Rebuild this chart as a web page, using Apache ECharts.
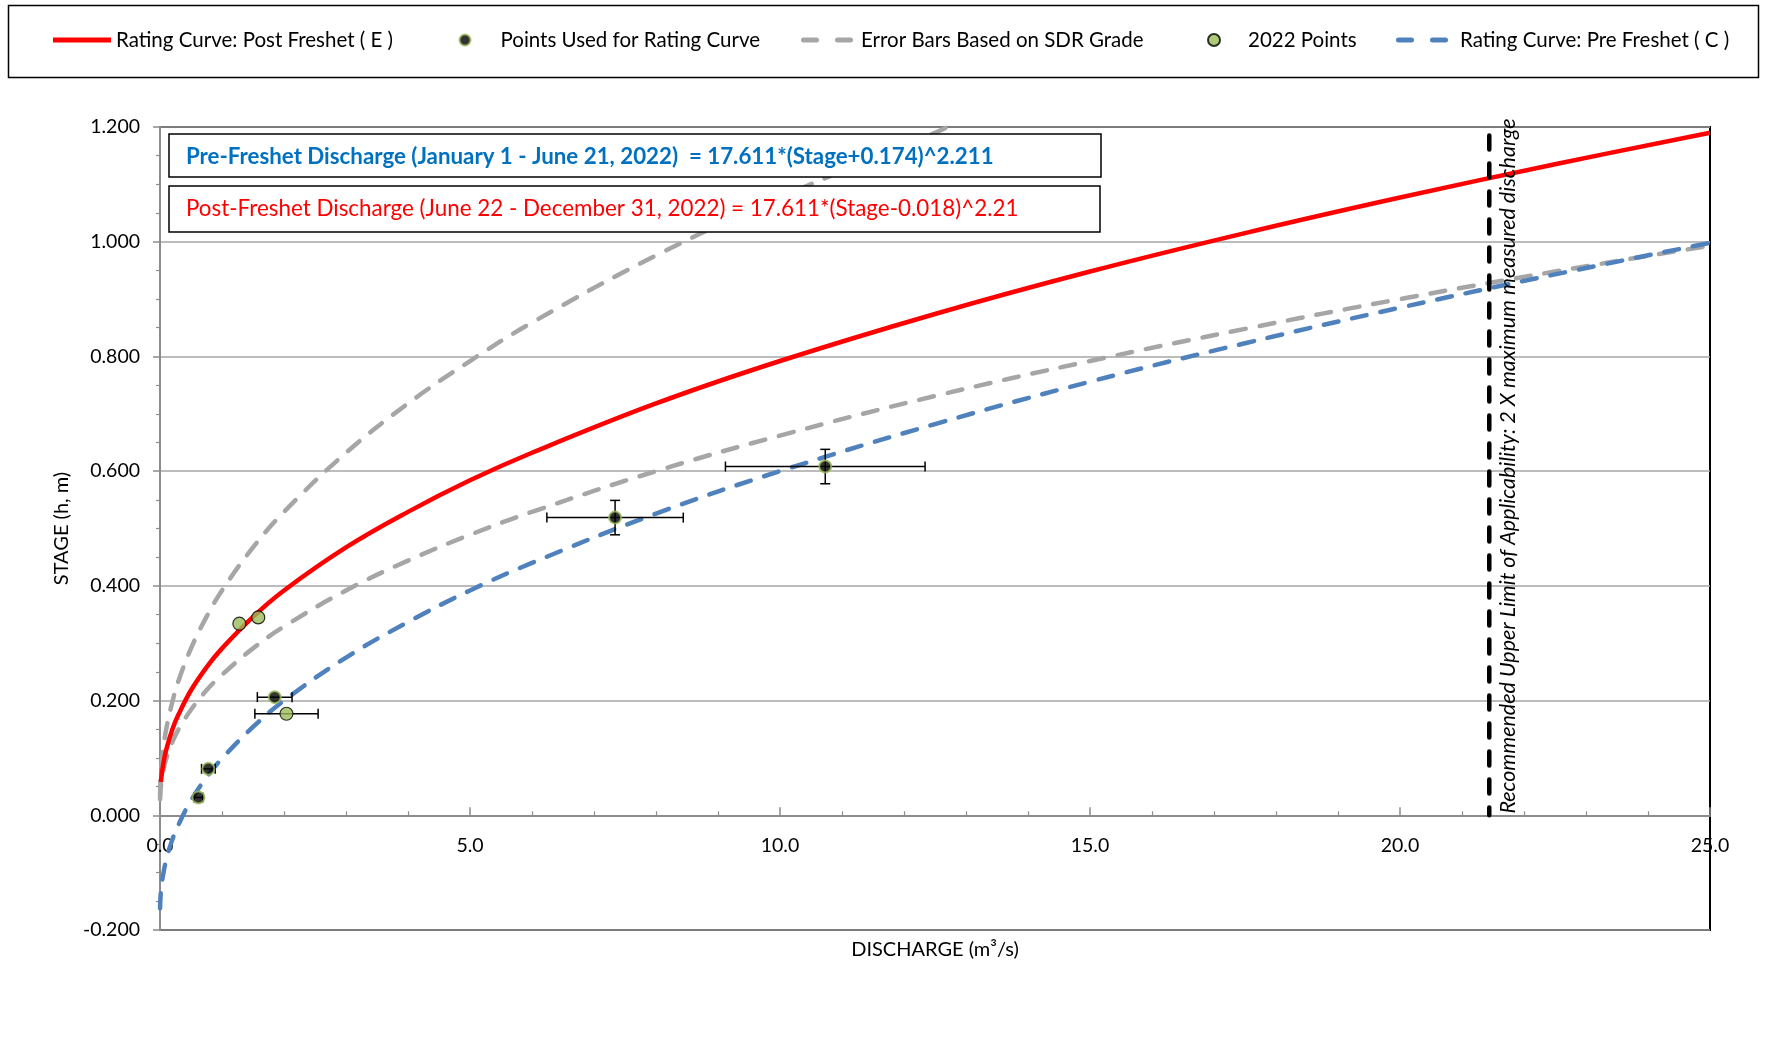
<!DOCTYPE html>
<html><head><meta charset="utf-8">
<script src="https://cdn.jsdelivr.net/npm/echarts@6/dist/echarts.min.js"></script>
<style>html,body{margin:0;padding:0;background:#fff}#c{width:1765px;height:1042px}</style>
</head><body><div id="c"></div>
<script>
// ---------------- data ----------------
const postName = 'Rating Curve: Post Freshet ( E )';
const usedName = 'Points Used for Rating Curve';
const errName = 'Error Bars Based on SDR Grade';
const ptsName = '2022 Points';
const preName = 'Rating Curve: Pre Freshet ( C )';

// Post-freshet rating curve (red)
const postQ = [0.014,0.05,0.1,0.2,0.3,0.5,0.75,1,1.5,2,3,4,5,6,8,10,12.5,15,17.5,20,22.5,25];
const postH = [0.058,0.088,0.114,0.150,0.176,0.218,0.258,0.291,0.346,0.392,0.467,0.529,0.584,0.632,0.718,0.792,0.874,0.948,1.015,1.077,1.135,1.190];
// Pre-freshet rating curve (blue dashed)
const preQ = [0.001,0.005,0.02,0.05,0.1,0.2,0.3,0.5,0.75,1,1.5,2,3,4,5,6,8,10,12.5,15,17.5,20,22.5,25];
const preH = [-0.162,-0.149,-0.127,-0.104,-0.078,-0.042,-0.016,0.026,0.066,0.099,0.154,0.200,0.275,0.337,0.392,0.440,0.526,0.600,0.682,0.756,0.823,0.885,0.943,0.998];
// Error envelope (grey dashed) - upper / left curve
const errUpQ = [0.001,0.01,0.05,0.1,0.2,0.3,0.5,0.75,1,1.5,2,3,4,5,6,8,10,12.5,12.7];
const errUpH = [0.034,0.065,0.114,0.150,0.198,0.235,0.291,0.346,0.392,0.467,0.529,0.632,0.718,0.792,0.859,0.976,1.077,1.190,1.200];
// Error envelope (grey dashed) - lower / right curve
const errLoQ = [0.001,0.01,0.05,0.1,0.2,0.3,0.5,0.75,1,1.5,2,3,4,5,6,8,10,12.5,15,17.5,20,22.5,25];
const errLoH = [0.028,0.046,0.077,0.098,0.128,0.150,0.184,0.218,0.245,0.291,0.329,0.392,0.444,0.489,0.529,0.600,0.662,0.731,0.792,0.848,0.900,0.948,0.993];
// Points used for rating curve (black)
const usedQ = [0.62,0.78,1.85,7.34,10.73];
const usedH = [0.031,0.081,0.206,0.519,0.608];
const usedXErr = [0.07,0.11,0.28,1.10,1.61];
const usedYErr = [0,0,0,0.03,0.03];
// Other 2022 points (green)
const ptsQ = [1.28,1.585,2.04];
const ptsH = [0.334,0.345,0.177];
const ptsXErr = [0,0,0.51];
const ptsYErr = [0,0,0];
// Upper limit of applicability (2 x max measured discharge), drawn top -> bottom
const limitQ = [21.44,21.44];
const limitH = [1.185,0];
// axes
const xMin = 0, xMax = 25, xStep = 5;
const yMin = -0.2, yMax = 1.2, yStep = 0.2;
const xTitle = 'DISCHARGE (m³/s)';
const yTitle = 'STAGE (h, m)';
const preEq = 'Pre-Freshet Discharge (January 1 - June 21, 2022)  = 17.611*(Stage+0.174)^2.211';
const postEq = 'Post-Freshet Discharge (June 22 - December 31, 2022) = 17.611*(Stage-0.018)^2.21';
const limitText = 'Recommended Upper Limit of Applicability: 2 X maximum measured discharge';

// ---------------- chart ----------------
const FONT = 'Lato, "Open Sans", sans-serif';
const RED = '#FF0000', BLUE = '#4F81BD', GREY = '#A6A6A6', GREEN = '#9BBB59';
const GRID = { left: 160, right: 55, top: 127, bottom: 112 };
const H = 1042;
const gridH = H - GRID.top - GRID.bottom;
const xAxisOffset = -((0 - yMin) / (yMax - yMin)) * gridH; // x axis crosses at stage 0

const pair = (a, b) => a.map((v, i) => [v, b[i]]);
const errRows = usedQ.map((q, i) => [q, usedH[i], usedXErr[i], usedYErr[i]])
  .concat(ptsQ.map((q, i) => [q, ptsH[i], ptsXErr[i], ptsYErr[i]]))
  .filter(r => r[2] > 0 || r[3] > 0);

function renderErr(params, api) {
  const x = api.value(0), y = api.value(1), xe = api.value(2), ye = api.value(3);
  const style = { stroke: '#000', lineWidth: 1.5 };
  const ch = [], cap = 5;
  if (xe > 0) {
    const a = api.coord([x - xe, y]), b = api.coord([x + xe, y]);
    ch.push({ type: 'line', shape: { x1: a[0], y1: a[1], x2: b[0], y2: b[1] }, style });
    ch.push({ type: 'line', shape: { x1: a[0], y1: a[1] - cap, x2: a[0], y2: a[1] + cap }, style });
    ch.push({ type: 'line', shape: { x1: b[0], y1: b[1] - cap, x2: b[0], y2: b[1] + cap }, style });
  }
  if (ye > 0) {
    const a = api.coord([x, y - ye]), b = api.coord([x, y + ye]);
    ch.push({ type: 'line', shape: { x1: a[0], y1: a[1], x2: b[0], y2: b[1] }, style });
    ch.push({ type: 'line', shape: { x1: a[0] - cap, y1: a[1], x2: a[0] + cap, y2: a[1] }, style });
    ch.push({ type: 'line', shape: { x1: b[0] - cap, y1: b[1], x2: b[0] + cap, y2: b[1] }, style });
  }
  return { type: 'group', children: ch };
}

const DASH_ICON = 'path://M2.5,0H15.5A2.5,2.5,0,0,1,15.5,5H2.5A2.5,2.5,0,0,1,2.5,0Z M36.5,0H49.5A2.5,2.5,0,0,1,49.5,5H36.5A2.5,2.5,0,0,1,36.5,0Z';
const LINE_ICON = 'path://M0,0H58V5H0Z';
const legendText = { fontFamily: FONT, fontSize: 20.5, color: '#000' };
const LEG_TOP = 29.5;
const legends = [
  { left: 53, data: [{ name: postName, icon: LINE_ICON }], itemWidth: 58, itemHeight: 5, textStyle: legendText },
  { left: 458.5, data: [{ name: usedName, icon: 'circle' }], itemWidth: 11, itemHeight: 11,
    textStyle: Object.assign({ padding: [0, 0, 0, 25] }, legendText) },
  { left: 801, data: [{ name: errName, icon: DASH_ICON, itemStyle: { color: GREY } }], itemWidth: 52, itemHeight: 5,
    textStyle: Object.assign({ padding: [0, 0, 0, 3] }, legendText) },
  { left: 1207, data: [{ name: ptsName, icon: 'circle' }], itemWidth: 12, itemHeight: 12,
    textStyle: Object.assign({ padding: [0, 0, 0, 23] }, legendText) },
  { left: 1396, data: [{ name: preName, icon: DASH_ICON, itemStyle: { color: BLUE } }], itemWidth: 52, itemHeight: 5,
    textStyle: Object.assign({ padding: [0, 0, 0, 7] }, legendText) }
].map(l => Object.assign({ orient: 'horizontal', top: LEG_TOP, padding: 0, itemGap: 0, selectedMode: false }, l));

const DASH = [15, 14];
const chart = echarts.init(document.getElementById('c'), null, { renderer: 'canvas' });
chart.setOption({
  animation: false,
  backgroundColor: '#fff',
  legend: legends,
  grid: {
    left: GRID.left, right: GRID.right, top: GRID.top, bottom: GRID.bottom, containLabel: false, outerBoundsMode: 'none',
    show: true, borderColor: '#000', borderWidth: 2, backgroundColor: 'transparent'
  },
  xAxis: {
    type: 'value', min: xMin, max: xMax, interval: xStep, position: 'bottom', offset: xAxisOffset,
    name: xTitle, nameLocation: 'middle', nameGap: 124,
    nameTextStyle: { fontFamily: FONT, fontSize: 20, color: '#000' },
    axisLine: { show: true, onZero: false, lineStyle: { color: '#8C8C8C', width: 2 } },
    axisTick: { show: true, inside: true, length: 8, lineStyle: { color: '#8C8C8C', width: 1.5 } },
    minorTick: { show: true, splitNumber: 5, length: 4, lineStyle: { color: '#8C8C8C', width: 1.2 } },
    splitLine: { show: false },
    axisLabel: { margin: 20, fontFamily: FONT, fontSize: 19.5, color: '#000', showMinLabel: true, showMaxLabel: true,
      formatter: v => v.toFixed(1) }
  },
  yAxis: {
    type: 'value', min: yMin, max: yMax, interval: yStep,
    name: yTitle, nameLocation: 'middle', nameRotate: 90, nameGap: 88,
    nameTextStyle: { fontFamily: FONT, fontSize: 20, color: '#000' },
    axisLine: { show: true, onZero: false, lineStyle: { color: '#8C8C8C', width: 2 } },
    axisTick: { show: true, inside: false, length: 7, lineStyle: { color: '#8C8C8C', width: 1.5 } },
    minorTick: { show: true, splitNumber: 4, length: 4, lineStyle: { color: '#8C8C8C', width: 1.2 } },
    splitLine: { show: true, lineStyle: { color: '#A6A6A6', width: 1.5 } },
    axisLabel: { margin: 20, fontFamily: FONT, fontSize: 19.5, color: '#000', showMinLabel: true, showMaxLabel: true,
      formatter: v => v.toFixed(3) }
  },
  series: [
    { name: errName, type: 'line', data: pair(errUpQ, errUpH), showSymbol: false, symbol: 'none',
      smooth: 0.4, lineStyle: { color: GREY, width: 4.5, type: DASH, cap: 'round' },
      itemStyle: { color: GREY }, z: 2 },
    { name: errName, type: 'line', data: pair(errLoQ, errLoH), showSymbol: false, symbol: 'none',
      smooth: 0.4, lineStyle: { color: GREY, width: 4.5, type: DASH, cap: 'round' },
      itemStyle: { color: GREY }, z: 2 },
    { name: preName, type: 'line', data: pair(preQ, preH), showSymbol: false, symbol: 'none',
      smooth: 0.4, lineStyle: { color: BLUE, width: 4.5, type: DASH, cap: 'round' },
      itemStyle: { color: BLUE }, z: 3 },
    { name: postName, type: 'line', data: pair(postQ, postH), showSymbol: false, symbol: 'none',
      smooth: 0.4, lineStyle: { color: RED, width: 4.5 },
      itemStyle: { color: RED }, z: 4 },
    { name: 'limit', type: 'line', data: pair(limitQ, limitH), showSymbol: false, symbol: 'none',
      lineStyle: { color: '#000', width: 4.5, type: [14, 14], cap: 'round' }, z: 5, silent: true },
    { name: 'errbars', type: 'custom', renderItem: renderErr, data: errRows, z: 6, silent: true,
      encode: { x: [0], y: [1] } },
    { name: ptsName, type: 'scatter', data: pair(ptsQ, ptsH), symbol: 'circle', symbolSize: 13,
      itemStyle: { color: GREEN, borderColor: '#000', borderWidth: 1.2 }, z: 7 },
    { name: usedName, type: 'scatter', data: pair(usedQ, usedH), symbol: 'circle', symbolSize: 12,
      itemStyle: { color: '#000', borderColor: GREEN, borderWidth: 2 }, z: 8 }
  ],
  graphic: [
    { type: 'rect', left: 6, top: 3, shape: { width: 1750, height: 72 },
      style: { fill: 'none', stroke: '#000', lineWidth: 1.5 }, z: 0 },
    { type: 'rect', x: 169, y: 134, shape: { width: 932, height: 43 },
      style: { fill: '#fff', stroke: '#000', lineWidth: 1.5 }, z: 50 },
    { type: 'text', x: 186, y: 157, z: 51,
      style: { text: preEq, fill: '#0070C0', font: 'bold 22.3px ' + FONT, verticalAlign: 'middle', align: 'left' } },
    { type: 'rect', x: 169, y: 186, shape: { width: 931, height: 46 },
      style: { fill: '#fff', stroke: '#000', lineWidth: 1.5 }, z: 50 },
    { type: 'text', x: 186, y: 209, z: 51,
      style: { text: postEq, fill: '#FF0000', font: '22.4px ' + FONT, verticalAlign: 'middle', align: 'left' } },
    { type: 'text', x: 1508, y: 466, rotation: Math.PI / 2, z: 51,
      style: { text: limitText, fill: '#000', font: 'italic 21.5px ' + FONT, verticalAlign: 'middle', align: 'center' } }
  ]
});
</script></body></html>
